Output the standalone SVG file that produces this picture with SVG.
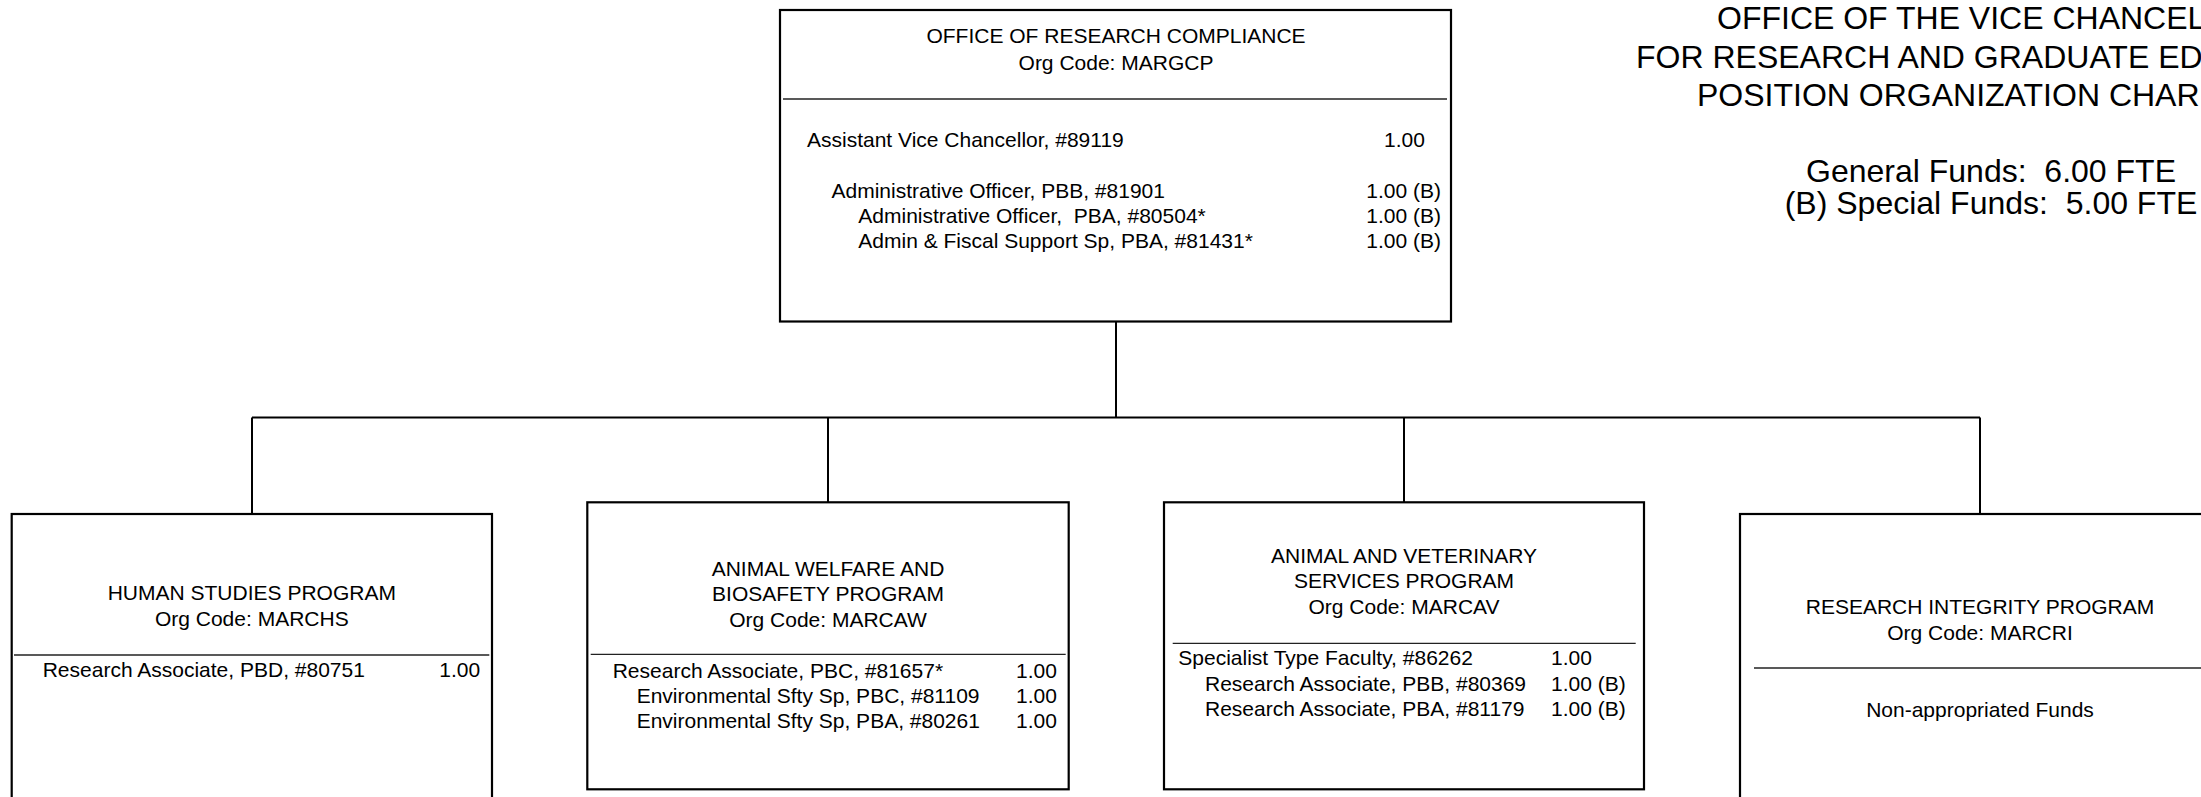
<svg xmlns="http://www.w3.org/2000/svg" width="2201" height="797" viewBox="0 0 2201 797">
<style>
text{font-family:"Liberation Sans",Arial,sans-serif;font-size:21px;fill:#000;white-space:pre}
.c{text-anchor:middle}
.e{text-anchor:end}
.hd{font-size:32px}
.fd{font-size:32px;text-anchor:middle}
.box{fill:#fff;stroke:#000;stroke-width:2.2}
.div{stroke:#222;stroke-width:1.3}
.conn{fill:none;stroke:#000;stroke-width:2}
</style>
<rect width="2201" height="797" fill="#fff"/>
<g id="connectors">
<path class="conn" d="M1116,322 V417.5 M252,417.5 H1980 M252,417.5 V514 M828,417.5 V502 M1404,417.5 V502 M1980,417.5 V514"/>
</g>
<g id="header">
<text class="hd" x="1717" y="29">OFFICE OF THE VICE CHANCEL</text>
<text class="hd" x="1636" y="68">FOR RESEARCH AND GRADUATE ED</text>
<text class="hd" x="1697" y="106">POSITION ORGANIZATION CHAR</text>
<text class="fd" x="1991" y="182" xml:space="preserve">General Funds:  6.00 FTE</text>
<text class="fd" x="1991" y="214" xml:space="preserve">(B) Special Funds:  5.00 FTE</text>
</g>
<g id="orc">
<rect class="box" x="780" y="10" width="671" height="311.5"/>
<text class="c" x="1116" y="43.3">OFFICE OF RESEARCH COMPLIANCE</text>
<text class="c" x="1116" y="70">Org Code: MARGCP</text>
<line class="div" x1="783" y1="99" x2="1447" y2="99"/>
<text x="807" y="146.7">Assistant Vice Chancellor, #89119</text>
<text x="1384" y="146.7">1.00</text>
<text x="831.5" y="197.7">Administrative Officer, PBB, #81901</text>
<text class="e" x="1441" y="197.7">1.00 (B)</text>
<text x="858.3" y="222.7" xml:space="preserve">Administrative Officer,  PBA, #80504*</text>
<text class="e" x="1441" y="222.7">1.00 (B)</text>
<text x="858.3" y="248.3">Admin &amp; Fiscal Support Sp, PBA, #81431*</text>
<text class="e" x="1441" y="248.3">1.00 (B)</text>
</g>
<g id="human">
<rect class="box" x="11.7" y="514" width="480.3" height="300"/>
<text class="c" x="251.8" y="600">HUMAN STUDIES PROGRAM</text>
<text class="c" x="251.8" y="626">Org Code: MARCHS</text>
<line class="div" x1="14" y1="655" x2="489.3" y2="655"/>
<text x="42.7" y="676.7">Research Associate, PBD, #80751</text>
<text x="439.3" y="676.7">1.00</text>
</g>
<g id="awb">
<rect class="box" x="587.3" y="502.3" width="481.4" height="287"/>
<text class="c" x="828" y="576">ANIMAL WELFARE AND</text>
<text class="c" x="828" y="601">BIOSAFETY PROGRAM</text>
<text class="c" x="828" y="626.7">Org Code: MARCAW</text>
<line class="div" x1="590.7" y1="654.3" x2="1065.7" y2="654.3"/>
<text x="612.7" y="678.3">Research Associate, PBC, #81657*</text>
<text x="1016" y="678.3">1.00</text>
<text x="636.7" y="703.3">Environmental Sfty Sp, PBC, #81109</text>
<text x="1016" y="703.3">1.00</text>
<text x="636.7" y="728.3">Environmental Sfty Sp, PBA, #80261</text>
<text x="1016" y="728.3">1.00</text>
</g>
<g id="avs">
<rect class="box" x="1164" y="502.3" width="480" height="287"/>
<text class="c" x="1404" y="562.7">ANIMAL AND VETERINARY</text>
<text class="c" x="1404" y="588.3">SERVICES PROGRAM</text>
<text class="c" x="1404" y="614">Org Code: MARCAV</text>
<line class="div" x1="1172.7" y1="643.3" x2="1635.7" y2="643.3"/>
<text x="1178.3" y="665">Specialist Type Faculty, #86262</text>
<text x="1551" y="665">1.00</text>
<text x="1205" y="690.7">Research Associate, PBB, #80369</text>
<text x="1551" y="690.7">1.00 (B)</text>
<text x="1205" y="716">Research Associate, PBA, #81179</text>
<text x="1551" y="716">1.00 (B)</text>
</g>
<g id="ri">
<rect class="box" x="1740" y="514" width="480" height="300"/>
<text class="c" x="1980" y="614">RESEARCH INTEGRITY PROGRAM</text>
<text class="c" x="1980" y="639.5">Org Code: MARCRI</text>
<line class="div" x1="1754" y1="668" x2="2215" y2="668"/>
<text class="c" x="1980" y="717">Non-appropriated Funds</text>
</g>
</svg>
